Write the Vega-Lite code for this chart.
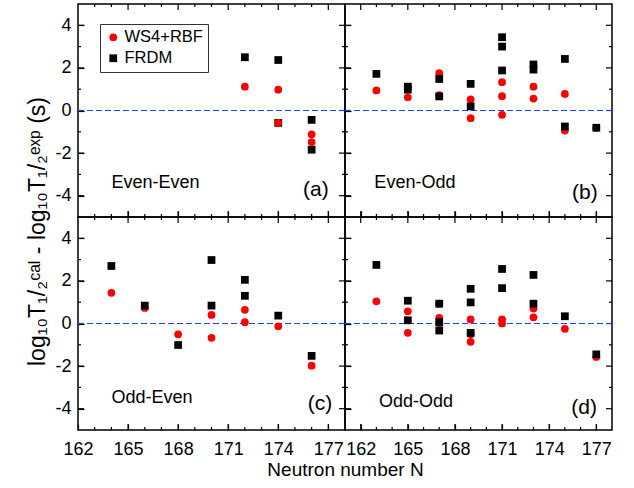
{
  "$schema": "https://vega.github.io/schema/vega-lite/v6.json",
  "background": "white",
  "padding": {"left": 26, "top": 3, "right": 5, "bottom": 5},
  "bounds": "flush",
  "spacing": 0,
  "columns": 2,
  "data": {"name": "pts"},
  "datasets": {
    "xmaj_l": [{"t": 165}, {"t": 168}, {"t": 171}, {"t": 174}, {"t": 177}],
    "xmaj_r": [{"t": 162}, {"t": 165}, {"t": 168}, {"t": 171}, {"t": 174}, {"t": 177}],
    "xmin": [{"t": 163}, {"t": 164}, {"t": 166}, {"t": 167}, {"t": 169}, {"t": 170}, {"t": 172}, {"t": 173}, {"t": 175}, {"t": 176}],
    "ymaj": [{"t": -4}, {"t": -2}, {"t": 0}, {"t": 2}, {"t": 4}],
    "ymin": [{"t": -3}, {"t": -1}, {"t": 1}, {"t": 3}],
    "pts": [
      {"panel": "a", "N": 172, "model": "FRDM", "v": 2.50},
      {"panel": "a", "N": 174, "model": "FRDM", "v": 2.37},
      {"panel": "a", "N": 174, "model": "FRDM", "v": -0.58},
      {"panel": "a", "N": 176, "model": "FRDM", "v": -0.44},
      {"panel": "a", "N": 176, "model": "FRDM", "v": -1.84},
      {"panel": "a", "N": 172, "model": "WS4+RBF", "v": 1.12},
      {"panel": "a", "N": 174, "model": "WS4+RBF", "v": 0.98},
      {"panel": "a", "N": 174, "model": "WS4+RBF", "v": -0.58},
      {"panel": "a", "N": 176, "model": "WS4+RBF", "v": -1.12},
      {"panel": "a", "N": 176, "model": "WS4+RBF", "v": -1.48},

      {"panel": "b", "N": 163, "model": "WS4+RBF", "v": 0.94},
      {"panel": "b", "N": 165, "model": "WS4+RBF", "v": 0.62},
      {"panel": "b", "N": 167, "model": "WS4+RBF", "v": 1.75},
      {"panel": "b", "N": 167, "model": "WS4+RBF", "v": 0.72},
      {"panel": "b", "N": 169, "model": "WS4+RBF", "v": 0.52},
      {"panel": "b", "N": 169, "model": "WS4+RBF", "v": -0.36},
      {"panel": "b", "N": 171, "model": "WS4+RBF", "v": 1.33},
      {"panel": "b", "N": 171, "model": "WS4+RBF", "v": 0.67},
      {"panel": "b", "N": 171, "model": "WS4+RBF", "v": -0.20},
      {"panel": "b", "N": 173, "model": "WS4+RBF", "v": 1.12},
      {"panel": "b", "N": 173, "model": "WS4+RBF", "v": 0.56},
      {"panel": "b", "N": 175, "model": "WS4+RBF", "v": 0.78},
      {"panel": "b", "N": 175, "model": "WS4+RBF", "v": -0.94},
      {"panel": "b", "N": 177, "model": "WS4+RBF", "v": -0.81},
      {"panel": "b", "N": 163, "model": "FRDM", "v": 1.72},
      {"panel": "b", "N": 165, "model": "FRDM", "v": 1.12},
      {"panel": "b", "N": 165, "model": "FRDM", "v": 0.98},
      {"panel": "b", "N": 167, "model": "FRDM", "v": 1.48},
      {"panel": "b", "N": 167, "model": "FRDM", "v": 0.66},
      {"panel": "b", "N": 169, "model": "FRDM", "v": 1.25},
      {"panel": "b", "N": 169, "model": "FRDM", "v": 0.19},
      {"panel": "b", "N": 171, "model": "FRDM", "v": 3.44},
      {"panel": "b", "N": 171, "model": "FRDM", "v": 3.00},
      {"panel": "b", "N": 171, "model": "FRDM", "v": 1.88},
      {"panel": "b", "N": 173, "model": "FRDM", "v": 2.16},
      {"panel": "b", "N": 173, "model": "FRDM", "v": 1.92},
      {"panel": "b", "N": 175, "model": "FRDM", "v": 2.42},
      {"panel": "b", "N": 175, "model": "FRDM", "v": -0.75},
      {"panel": "b", "N": 177, "model": "FRDM", "v": -0.81},

      {"panel": "c", "N": 164, "model": "WS4+RBF", "v": 1.44},
      {"panel": "c", "N": 166, "model": "WS4+RBF", "v": 0.73},
      {"panel": "c", "N": 168, "model": "WS4+RBF", "v": -0.51},
      {"panel": "c", "N": 170, "model": "WS4+RBF", "v": 0.40},
      {"panel": "c", "N": 170, "model": "WS4+RBF", "v": -0.67},
      {"panel": "c", "N": 172, "model": "WS4+RBF", "v": 0.64},
      {"panel": "c", "N": 172, "model": "WS4+RBF", "v": 0.06},
      {"panel": "c", "N": 174, "model": "WS4+RBF", "v": -0.13},
      {"panel": "c", "N": 176, "model": "WS4+RBF", "v": -1.98},
      {"panel": "c", "N": 164, "model": "FRDM", "v": 2.70},
      {"panel": "c", "N": 166, "model": "FRDM", "v": 0.84},
      {"panel": "c", "N": 168, "model": "FRDM", "v": -1.01},
      {"panel": "c", "N": 170, "model": "FRDM", "v": 2.98},
      {"panel": "c", "N": 170, "model": "FRDM", "v": 0.84},
      {"panel": "c", "N": 172, "model": "FRDM", "v": 2.05},
      {"panel": "c", "N": 172, "model": "FRDM", "v": 1.30},
      {"panel": "c", "N": 174, "model": "FRDM", "v": 0.37},
      {"panel": "c", "N": 176, "model": "FRDM", "v": -1.52},

      {"panel": "d", "N": 163, "model": "WS4+RBF", "v": 1.04},
      {"panel": "d", "N": 165, "model": "WS4+RBF", "v": 0.57},
      {"panel": "d", "N": 165, "model": "WS4+RBF", "v": -0.44},
      {"panel": "d", "N": 167, "model": "WS4+RBF", "v": 0.93},
      {"panel": "d", "N": 167, "model": "WS4+RBF", "v": 0.26},
      {"panel": "d", "N": 167, "model": "WS4+RBF", "v": 0.02},
      {"panel": "d", "N": 169, "model": "WS4+RBF", "v": 0.19},
      {"panel": "d", "N": 169, "model": "WS4+RBF", "v": -0.50},
      {"panel": "d", "N": 169, "model": "WS4+RBF", "v": -0.86},
      {"panel": "d", "N": 171, "model": "WS4+RBF", "v": 0.19},
      {"panel": "d", "N": 171, "model": "WS4+RBF", "v": 0.00},
      {"panel": "d", "N": 173, "model": "WS4+RBF", "v": 0.70},
      {"panel": "d", "N": 173, "model": "WS4+RBF", "v": 0.29},
      {"panel": "d", "N": 175, "model": "WS4+RBF", "v": -0.25},
      {"panel": "d", "N": 177, "model": "WS4+RBF", "v": -1.57},
      {"panel": "d", "N": 163, "model": "FRDM", "v": 2.75},
      {"panel": "d", "N": 165, "model": "FRDM", "v": 1.07},
      {"panel": "d", "N": 165, "model": "FRDM", "v": 0.15},
      {"panel": "d", "N": 167, "model": "FRDM", "v": 0.93},
      {"panel": "d", "N": 167, "model": "FRDM", "v": 0.06},
      {"panel": "d", "N": 167, "model": "FRDM", "v": -0.33},
      {"panel": "d", "N": 169, "model": "FRDM", "v": 1.63},
      {"panel": "d", "N": 169, "model": "FRDM", "v": 0.99},
      {"panel": "d", "N": 169, "model": "FRDM", "v": -0.44},
      {"panel": "d", "N": 171, "model": "FRDM", "v": 2.56},
      {"panel": "d", "N": 171, "model": "FRDM", "v": 1.66},
      {"panel": "d", "N": 173, "model": "FRDM", "v": 2.28},
      {"panel": "d", "N": 173, "model": "FRDM", "v": 0.93},
      {"panel": "d", "N": 175, "model": "FRDM", "v": 0.34},
      {"panel": "d", "N": 177, "model": "FRDM", "v": -1.45}
    ]
  },
  "config": {
    "view": {"stroke": "black", "strokeWidth": 1.5, "fill": null},
    "font": "Liberation Sans",
    "tick": {"opacity": 1, "color": "black", "thickness": 1.2},
    "axis": {
      "zindex": 1,
      "grid": false,
      "domain": false,
      "offset": -6,
      "ticks": true,
      "tickColor": "black",
      "tickWidth": 1.2,
      "tickSize": 6,
      "tickOpacity": 1,
      "labelFont": "Liberation Sans",
      "labelFontSize": 18,
      "labelColor": "black",
      "labelFlush": false,
      "labelOverlap": false,
      "titleFont": "Liberation Sans",
      "titleFontSize": 19,
      "titleFontWeight": "normal",
      "titleColor": "black"
    },
    "legend": {
      "orient": "none",
      "legendX": 22,
      "legendY": 20,
      "strokeColor": "#333",
      "padding": 5,
      "labelFont": "Liberation Sans",
      "labelFontSize": 16.5,
      "labelColor": "black",
      "symbolSize": 60,
      "symbolStrokeWidth": 0,
      "rowPadding": 4,
      "labelOffset": 3,
      "titleFontSize": 0
    }
  },
  "concat": [
    {
      "width": 267, "height": 213,
      "resolve": {"axis": {"x": "independent", "y": "independent"}},
      "layer": [
        {"data": {"name": "xmaj_l"}, "mark": {"type": "tick", "orient": "vertical", "size": 6, "thickness": 1.2, "yOffset": -3, "color": "black", "opacity": 1},
         "encoding": {"x": {"field": "t", "type": "quantitative", "scale": {"domain": [162, 178], "nice": false, "zero": false}, "axis": null}, "y": {"datum": -5, "type": "quantitative", "scale": {"domain": [-5, 5], "nice": false, "zero": false}, "axis": null}}},
        {"data": {"name": "xmin"}, "mark": {"type": "tick", "orient": "vertical", "size": 3, "thickness": 1.2, "yOffset": -1.5, "color": "black", "opacity": 1},
         "encoding": {"x": {"field": "t", "type": "quantitative", "axis": null}, "y": {"datum": -5, "type": "quantitative", "axis": null}}},
        {"data": {"name": "xmaj_l"}, "mark": {"type": "tick", "orient": "vertical", "size": 6, "thickness": 1.2, "yOffset": 3, "color": "black", "opacity": 1},
         "encoding": {"x": {"field": "t", "type": "quantitative", "axis": null}, "y": {"datum": 5, "type": "quantitative", "axis": null}}},
        {"data": {"name": "xmin"}, "mark": {"type": "tick", "orient": "vertical", "size": 3, "thickness": 1.2, "yOffset": 1.5, "color": "black", "opacity": 1},
         "encoding": {"x": {"field": "t", "type": "quantitative", "axis": null}, "y": {"datum": 5, "type": "quantitative", "axis": null}}},
        {"data": {"name": "ymaj"}, "mark": {"type": "tick", "orient": "horizontal", "size": 6, "thickness": 1.2, "xOffset": 3, "color": "black", "opacity": 1},
         "encoding": {"y": {"field": "t", "type": "quantitative", "axis": null}, "x": {"datum": 162, "type": "quantitative", "axis": null}}},
        {"data": {"name": "ymin"}, "mark": {"type": "tick", "orient": "horizontal", "size": 3, "thickness": 1.2, "xOffset": 1.5, "color": "black", "opacity": 1},
         "encoding": {"y": {"field": "t", "type": "quantitative", "axis": null}, "x": {"datum": 162, "type": "quantitative", "axis": null}}},
        {"data": {"name": "ymaj"}, "mark": {"type": "tick", "orient": "horizontal", "size": 6, "thickness": 1.2, "xOffset": -3, "color": "black", "opacity": 1},
         "encoding": {"y": {"field": "t", "type": "quantitative", "axis": null}, "x": {"datum": 178, "type": "quantitative", "axis": null}}},
        {"data": {"name": "ymin"}, "mark": {"type": "tick", "orient": "horizontal", "size": 3, "thickness": 1.2, "xOffset": -1.5, "color": "black", "opacity": 1},
         "encoding": {"y": {"field": "t", "type": "quantitative", "axis": null}, "x": {"datum": 178, "type": "quantitative", "axis": null}}},
        {
          "data": {"values": [{}]},
          "mark": {"type": "rule", "color": "#2040ff", "strokeDash": [6, 3], "strokeWidth": 1.2},
          "encoding": {
            "x": {"datum": 162, "type": "quantitative", "axis": null},
            "x2": {"datum": 178},
            "y": {"datum": 0, "type": "quantitative", "axis": null}
          }
        },
        {
          "transform": [{"filter": "datum.panel === 'a'"}],
          "mark": {"type": "point", "filled": true, "opacity": 1, "size": 60},
          "encoding": {
            "x": {"field": "N", "type": "quantitative", "scale": {"domain": [162, 178], "nice": false, "zero": false},
                  "axis": {"orient": "bottom", "values": [165, 168, 171, 174, 177], "labels": false, "title": null}},
            "y": {"field": "v", "type": "quantitative", "scale": {"domain": [-5, 5], "nice": false, "zero": false},
                  "axis": {"orient": "left", "values": [-4, -2, 0, 2, 4], "labelPadding": 7, "labelExpr": "'' + datum.value",
                           "title": "log₁₀T₁/₂ᶜᵃˡ - log₁₀T₁/₂ᵉˣᵖ (s)", "titleFontSize": 23, "titleY": 227, "titleAlign": "center", "titlePadding": 5}},
            "color": {"field": "model", "type": "nominal", "scale": {"domain": ["WS4+RBF", "FRDM"], "range": ["#ff0000", "#000000"]}, "legend": {"title": null}},
            "shape": {"field": "model", "type": "nominal", "scale": {"domain": ["WS4+RBF", "FRDM"], "range": ["circle", "square"]}, "legend": {"title": null}}
          }
        },
        {
          "data": {"values": [{}]},
          "mark": {"type": "text", "text": "Even-Even", "align": "left", "baseline": "middle", "fontSize": 18, "font": "Liberation Sans", "color": "black"},
          "encoding": {"x": {"datum": 164.0, "type": "quantitative", "axis": null}, "y": {"datum": -3.4, "type": "quantitative", "axis": null}}
        },
        {
          "data": {"values": [{}]},
          "mark": {"type": "text", "text": "(a)", "align": "center", "baseline": "middle", "fontSize": 21, "font": "Liberation Sans", "color": "black"},
          "encoding": {"x": {"datum": 176.25, "type": "quantitative", "axis": null}, "y": {"datum": -3.75, "type": "quantitative", "axis": null}}
        }
      ]
    },
    {
      "width": 267, "height": 213,
      "resolve": {"axis": {"x": "independent", "y": "independent"}},
      "layer": [
        {"data": {"name": "xmaj_r"}, "mark": {"type": "tick", "orient": "vertical", "size": 6, "thickness": 1.2, "yOffset": -3, "color": "black", "opacity": 1},
         "encoding": {"x": {"field": "t", "type": "quantitative", "scale": {"domain": [161, 178], "nice": false, "zero": false}, "axis": null}, "y": {"datum": -5, "type": "quantitative", "scale": {"domain": [-5, 5], "nice": false, "zero": false}, "axis": null}}},
        {"data": {"name": "xmin"}, "mark": {"type": "tick", "orient": "vertical", "size": 3, "thickness": 1.2, "yOffset": -1.5, "color": "black", "opacity": 1},
         "encoding": {"x": {"field": "t", "type": "quantitative", "axis": null}, "y": {"datum": -5, "type": "quantitative", "axis": null}}},
        {"data": {"name": "xmaj_r"}, "mark": {"type": "tick", "orient": "vertical", "size": 6, "thickness": 1.2, "yOffset": 3, "color": "black", "opacity": 1},
         "encoding": {"x": {"field": "t", "type": "quantitative", "axis": null}, "y": {"datum": 5, "type": "quantitative", "axis": null}}},
        {"data": {"name": "xmin"}, "mark": {"type": "tick", "orient": "vertical", "size": 3, "thickness": 1.2, "yOffset": 1.5, "color": "black", "opacity": 1},
         "encoding": {"x": {"field": "t", "type": "quantitative", "axis": null}, "y": {"datum": 5, "type": "quantitative", "axis": null}}},
        {"data": {"name": "ymaj"}, "mark": {"type": "tick", "orient": "horizontal", "size": 6, "thickness": 1.2, "xOffset": 3, "color": "black", "opacity": 1},
         "encoding": {"y": {"field": "t", "type": "quantitative", "axis": null}, "x": {"datum": 161, "type": "quantitative", "axis": null}}},
        {"data": {"name": "ymin"}, "mark": {"type": "tick", "orient": "horizontal", "size": 3, "thickness": 1.2, "xOffset": 1.5, "color": "black", "opacity": 1},
         "encoding": {"y": {"field": "t", "type": "quantitative", "axis": null}, "x": {"datum": 161, "type": "quantitative", "axis": null}}},
        {"data": {"name": "ymaj"}, "mark": {"type": "tick", "orient": "horizontal", "size": 6, "thickness": 1.2, "xOffset": -3, "color": "black", "opacity": 1},
         "encoding": {"y": {"field": "t", "type": "quantitative", "axis": null}, "x": {"datum": 178, "type": "quantitative", "axis": null}}},
        {"data": {"name": "ymin"}, "mark": {"type": "tick", "orient": "horizontal", "size": 3, "thickness": 1.2, "xOffset": -1.5, "color": "black", "opacity": 1},
         "encoding": {"y": {"field": "t", "type": "quantitative", "axis": null}, "x": {"datum": 178, "type": "quantitative", "axis": null}}},
        {
          "data": {"values": [{}]},
          "mark": {"type": "rule", "color": "#2040ff", "strokeDash": [6, 3], "strokeWidth": 1.2},
          "encoding": {
            "x": {"datum": 161, "type": "quantitative", "axis": null},
            "x2": {"datum": 178},
            "y": {"datum": 0, "type": "quantitative", "axis": null}
          }
        },
        {
          "transform": [{"filter": "datum.panel === 'b'"}],
          "mark": {"type": "point", "filled": true, "opacity": 1, "size": 60},
          "encoding": {
            "x": {"field": "N", "type": "quantitative", "scale": {"domain": [161, 178], "nice": false, "zero": false},
                  "axis": {"orient": "bottom", "values": [162, 165, 168, 171, 174, 177], "labels": false, "title": null}},
            "y": {"field": "v", "type": "quantitative", "scale": {"domain": [-5, 5], "nice": false, "zero": false},
                  "axis": {"orient": "left", "values": [-4, -2, 0, 2, 4], "labels": false, "title": null}},
            "color": {"field": "model", "type": "nominal", "scale": {"domain": ["WS4+RBF", "FRDM"], "range": ["#ff0000", "#000000"]}, "legend": {"title": null}},
            "shape": {"field": "model", "type": "nominal", "scale": {"domain": ["WS4+RBF", "FRDM"], "range": ["circle", "square"]}, "legend": {"title": null}}
          }
        },
        {
          "data": {"values": [{}]},
          "mark": {"type": "text", "text": "Even-Odd", "align": "left", "baseline": "middle", "fontSize": 18, "font": "Liberation Sans", "color": "black"},
          "encoding": {"x": {"datum": 162.87, "type": "quantitative", "axis": null}, "y": {"datum": -3.4, "type": "quantitative", "axis": null}}
        },
        {
          "data": {"values": [{}]},
          "mark": {"type": "text", "text": "(b)", "align": "center", "baseline": "middle", "fontSize": 21, "font": "Liberation Sans", "color": "black"},
          "encoding": {"x": {"datum": 176.27, "type": "quantitative", "axis": null}, "y": {"datum": -3.85, "type": "quantitative", "axis": null}}
        }
      ]
    },
    {
      "width": 267, "height": 213,
      "resolve": {"axis": {"x": "independent", "y": "independent"}},
      "layer": [
        {"data": {"name": "xmaj_l"}, "mark": {"type": "tick", "orient": "vertical", "size": 6, "thickness": 1.2, "yOffset": -3, "color": "black", "opacity": 1},
         "encoding": {"x": {"field": "t", "type": "quantitative", "scale": {"domain": [162, 178], "nice": false, "zero": false}, "axis": null}, "y": {"datum": -5, "type": "quantitative", "scale": {"domain": [-5, 5], "nice": false, "zero": false}, "axis": null}}},
        {"data": {"name": "xmin"}, "mark": {"type": "tick", "orient": "vertical", "size": 3, "thickness": 1.2, "yOffset": -1.5, "color": "black", "opacity": 1},
         "encoding": {"x": {"field": "t", "type": "quantitative", "axis": null}, "y": {"datum": -5, "type": "quantitative", "axis": null}}},
        {"data": {"name": "xmaj_l"}, "mark": {"type": "tick", "orient": "vertical", "size": 6, "thickness": 1.2, "yOffset": 3, "color": "black", "opacity": 1},
         "encoding": {"x": {"field": "t", "type": "quantitative", "axis": null}, "y": {"datum": 5, "type": "quantitative", "axis": null}}},
        {"data": {"name": "xmin"}, "mark": {"type": "tick", "orient": "vertical", "size": 3, "thickness": 1.2, "yOffset": 1.5, "color": "black", "opacity": 1},
         "encoding": {"x": {"field": "t", "type": "quantitative", "axis": null}, "y": {"datum": 5, "type": "quantitative", "axis": null}}},
        {"data": {"name": "ymaj"}, "mark": {"type": "tick", "orient": "horizontal", "size": 6, "thickness": 1.2, "xOffset": 3, "color": "black", "opacity": 1},
         "encoding": {"y": {"field": "t", "type": "quantitative", "axis": null}, "x": {"datum": 162, "type": "quantitative", "axis": null}}},
        {"data": {"name": "ymin"}, "mark": {"type": "tick", "orient": "horizontal", "size": 3, "thickness": 1.2, "xOffset": 1.5, "color": "black", "opacity": 1},
         "encoding": {"y": {"field": "t", "type": "quantitative", "axis": null}, "x": {"datum": 162, "type": "quantitative", "axis": null}}},
        {"data": {"name": "ymaj"}, "mark": {"type": "tick", "orient": "horizontal", "size": 6, "thickness": 1.2, "xOffset": -3, "color": "black", "opacity": 1},
         "encoding": {"y": {"field": "t", "type": "quantitative", "axis": null}, "x": {"datum": 178, "type": "quantitative", "axis": null}}},
        {"data": {"name": "ymin"}, "mark": {"type": "tick", "orient": "horizontal", "size": 3, "thickness": 1.2, "xOffset": -1.5, "color": "black", "opacity": 1},
         "encoding": {"y": {"field": "t", "type": "quantitative", "axis": null}, "x": {"datum": 178, "type": "quantitative", "axis": null}}},
        {
          "data": {"values": [{}]},
          "mark": {"type": "rule", "color": "#2040ff", "strokeDash": [6, 3], "strokeWidth": 1.2},
          "encoding": {
            "x": {"datum": 162, "type": "quantitative", "axis": null},
            "x2": {"datum": 178},
            "y": {"datum": 0, "type": "quantitative", "axis": null}
          }
        },
        {
          "transform": [{"filter": "datum.panel === 'c'"}],
          "mark": {"type": "point", "filled": true, "opacity": 1, "size": 60},
          "encoding": {
            "x": {"field": "N", "type": "quantitative", "scale": {"domain": [162, 178], "nice": false, "zero": false},
                  "axis": {"orient": "bottom", "values": [162, 165, 168, 171, 174, 177], "labelPadding": 10, "labelExpr": "'' + datum.value",
                           "title": "Neutron number N", "titleX": 267, "titleAlign": "center", "titlePadding": 2}},
            "y": {"field": "v", "type": "quantitative", "scale": {"domain": [-5, 5], "nice": false, "zero": false},
                  "axis": {"orient": "left", "values": [-4, -2, 0, 2, 4], "labelPadding": 7, "labelExpr": "'' + datum.value", "title": null}},
            "color": {"field": "model", "type": "nominal", "scale": {"domain": ["WS4+RBF", "FRDM"], "range": ["#ff0000", "#000000"]}, "legend": {"title": null}},
            "shape": {"field": "model", "type": "nominal", "scale": {"domain": ["WS4+RBF", "FRDM"], "range": ["circle", "square"]}, "legend": {"title": null}}
          }
        },
        {
          "data": {"values": [{}]},
          "mark": {"type": "text", "text": "Odd-Even", "align": "left", "baseline": "middle", "fontSize": 18, "font": "Liberation Sans", "color": "black"},
          "encoding": {"x": {"datum": 164.0, "type": "quantitative", "axis": null}, "y": {"datum": -3.5, "type": "quantitative", "axis": null}}
        },
        {
          "data": {"values": [{}]},
          "mark": {"type": "text", "text": "(c)", "align": "center", "baseline": "middle", "fontSize": 21, "font": "Liberation Sans", "color": "black"},
          "encoding": {"x": {"datum": 176.5, "type": "quantitative", "axis": null}, "y": {"datum": -3.78, "type": "quantitative", "axis": null}}
        }
      ]
    },
    {
      "width": 267, "height": 213,
      "resolve": {"axis": {"x": "independent", "y": "independent"}},
      "layer": [
        {"data": {"name": "xmaj_r"}, "mark": {"type": "tick", "orient": "vertical", "size": 6, "thickness": 1.2, "yOffset": -3, "color": "black", "opacity": 1},
         "encoding": {"x": {"field": "t", "type": "quantitative", "scale": {"domain": [161, 178], "nice": false, "zero": false}, "axis": null}, "y": {"datum": -5, "type": "quantitative", "scale": {"domain": [-5, 5], "nice": false, "zero": false}, "axis": null}}},
        {"data": {"name": "xmin"}, "mark": {"type": "tick", "orient": "vertical", "size": 3, "thickness": 1.2, "yOffset": -1.5, "color": "black", "opacity": 1},
         "encoding": {"x": {"field": "t", "type": "quantitative", "axis": null}, "y": {"datum": -5, "type": "quantitative", "axis": null}}},
        {"data": {"name": "xmaj_r"}, "mark": {"type": "tick", "orient": "vertical", "size": 6, "thickness": 1.2, "yOffset": 3, "color": "black", "opacity": 1},
         "encoding": {"x": {"field": "t", "type": "quantitative", "axis": null}, "y": {"datum": 5, "type": "quantitative", "axis": null}}},
        {"data": {"name": "xmin"}, "mark": {"type": "tick", "orient": "vertical", "size": 3, "thickness": 1.2, "yOffset": 1.5, "color": "black", "opacity": 1},
         "encoding": {"x": {"field": "t", "type": "quantitative", "axis": null}, "y": {"datum": 5, "type": "quantitative", "axis": null}}},
        {"data": {"name": "ymaj"}, "mark": {"type": "tick", "orient": "horizontal", "size": 6, "thickness": 1.2, "xOffset": 3, "color": "black", "opacity": 1},
         "encoding": {"y": {"field": "t", "type": "quantitative", "axis": null}, "x": {"datum": 161, "type": "quantitative", "axis": null}}},
        {"data": {"name": "ymin"}, "mark": {"type": "tick", "orient": "horizontal", "size": 3, "thickness": 1.2, "xOffset": 1.5, "color": "black", "opacity": 1},
         "encoding": {"y": {"field": "t", "type": "quantitative", "axis": null}, "x": {"datum": 161, "type": "quantitative", "axis": null}}},
        {"data": {"name": "ymaj"}, "mark": {"type": "tick", "orient": "horizontal", "size": 6, "thickness": 1.2, "xOffset": -3, "color": "black", "opacity": 1},
         "encoding": {"y": {"field": "t", "type": "quantitative", "axis": null}, "x": {"datum": 178, "type": "quantitative", "axis": null}}},
        {"data": {"name": "ymin"}, "mark": {"type": "tick", "orient": "horizontal", "size": 3, "thickness": 1.2, "xOffset": -1.5, "color": "black", "opacity": 1},
         "encoding": {"y": {"field": "t", "type": "quantitative", "axis": null}, "x": {"datum": 178, "type": "quantitative", "axis": null}}},
        {
          "data": {"values": [{}]},
          "mark": {"type": "rule", "color": "#2040ff", "strokeDash": [6, 3], "strokeWidth": 1.2},
          "encoding": {
            "x": {"datum": 161, "type": "quantitative", "axis": null},
            "x2": {"datum": 178},
            "y": {"datum": 0, "type": "quantitative", "axis": null}
          }
        },
        {
          "transform": [{"filter": "datum.panel === 'd'"}],
          "mark": {"type": "point", "filled": true, "opacity": 1, "size": 60},
          "encoding": {
            "x": {"field": "N", "type": "quantitative", "scale": {"domain": [161, 178], "nice": false, "zero": false},
                  "axis": {"orient": "bottom", "values": [162, 165, 168, 171, 174, 177], "labelPadding": 10, "labelExpr": "'' + datum.value", "title": null}},
            "y": {"field": "v", "type": "quantitative", "scale": {"domain": [-5, 5], "nice": false, "zero": false},
                  "axis": {"orient": "left", "values": [-4, -2, 0, 2, 4], "labels": false, "title": null}},
            "color": {"field": "model", "type": "nominal", "scale": {"domain": ["WS4+RBF", "FRDM"], "range": ["#ff0000", "#000000"]}, "legend": {"title": null}},
            "shape": {"field": "model", "type": "nominal", "scale": {"domain": ["WS4+RBF", "FRDM"], "range": ["circle", "square"]}, "legend": {"title": null}}
          }
        },
        {
          "data": {"values": [{}]},
          "mark": {"type": "text", "text": "Odd-Odd", "align": "left", "baseline": "middle", "fontSize": 18, "font": "Liberation Sans", "color": "black"},
          "encoding": {"x": {"datum": 163.17, "type": "quantitative", "axis": null}, "y": {"datum": -3.7, "type": "quantitative", "axis": null}}
        },
        {
          "data": {"values": [{}]},
          "mark": {"type": "text", "text": "(d)", "align": "center", "baseline": "middle", "fontSize": 21, "font": "Liberation Sans", "color": "black"},
          "encoding": {"x": {"datum": 176.23, "type": "quantitative", "axis": null}, "y": {"datum": -3.96, "type": "quantitative", "axis": null}}
        }
      ]
    }
  ]
}
